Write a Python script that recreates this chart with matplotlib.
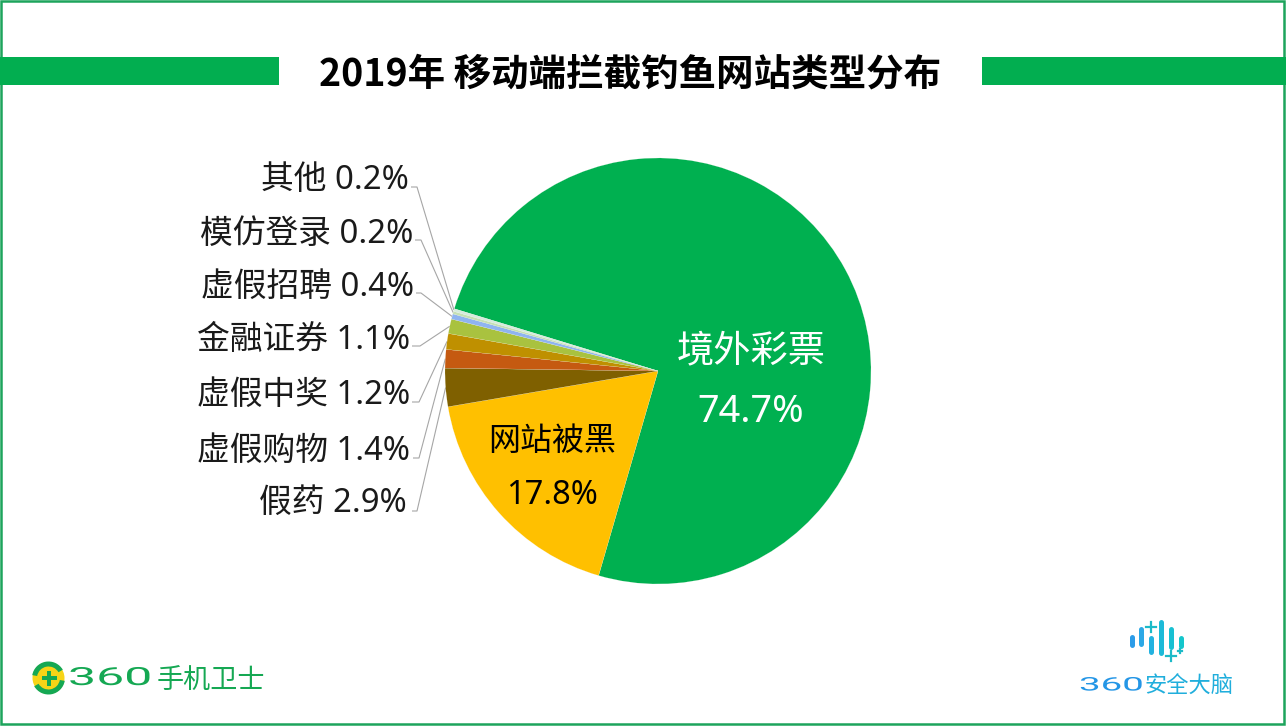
import matplotlib
matplotlib.use("Agg")
import numpy as np
import matplotlib.pyplot as plt
from matplotlib.patches import Rectangle, Circle, Wedge
from matplotlib.patheffects import AbstractPathEffect
from matplotlib.transforms import Affine2D

FAM = ['Noto Sans', 'Noto Sans CJK SC', 'DejaVu Sans']
CJK = ['Noto Sans CJK SC', 'DejaVu Sans']
plt.rcParams['font.family'] = FAM

title = '2019年 移动端拦截钓鱼网站类型分布'
categories = ['境外彩票', '网站被黑', '假药', '虚假购物', '虚假中奖', '金融证券', '虚假招聘', '模仿登录', '其他']
values = [74.7, 17.8, 2.9, 1.4, 1.2, 1.1, 0.4, 0.2, 0.2]
colors = ['#00B050', '#FFC000', '#7F6000', '#C55A11', '#BF9000', '#A9C23F', '#8FB4F0', '#C5E0B4', '#D5EBDD']

W, H = 1286, 726
BAND = '#02AE50'
FRAME = '#1DA45C'


class StretchX(AbstractPathEffect):
    """Widen a text's glyphs about a display x, for the wide logo numerals."""

    def __init__(self, sx, x0):
        super().__init__()
        self.sx, self.x0 = sx, x0

    def draw_path(self, renderer, gc, tpath, affine, rgbFace=None):
        t = affine + Affine2D().translate(-self.x0, 0).scale(self.sx, 1).translate(self.x0, 0)
        renderer.draw_path(gc, tpath, t, rgbFace)


fig = plt.figure(figsize=(W / 100, H / 100), dpi=100, facecolor='white')
bg = fig.add_axes([0, 0, 1, 1], zorder=0)
bg.set_xlim(0, W)
bg.set_ylim(H, 0)
bg.axis('off')

# frame and title band
bg.add_patch(Rectangle((1, 1), W - 3, H - 3, fill=False, ec=FRAME, lw=1.8))
bg.add_patch(Rectangle((0, 57), 279, 27.5, fc=BAND, ec='none'))
bg.add_patch(Rectangle((982, 57), W - 982, 27.5, fc=BAND, ec='none'))
bg.text(630, 74, title, ha='center', va='center', fontsize=27, fontweight='bold', color='black', family=CJK)

# pie
cx, cy, R = 658, 371, 213
ax = fig.add_axes([(cx - R) / W, 1 - (cy + R) / H, 2 * R / W, 2 * R / H], zorder=1)
wedges, _ = ax.pie(values, colors=colors, startangle=163, counterclock=False, radius=1,
                   wedgeprops=dict(edgecolor='#F4F4E8', linewidth=0.1))
ax.set_xlim(-1, 1)
ax.set_ylim(-1, 1)
ax.set_aspect('equal')
ax.patch.set_alpha(0)

# inner labels, above the pie
top = fig.add_axes([0, 0, 1, 1], zorder=2)
top.set_xlim(0, W)
top.set_ylim(H, 0)
top.axis('off')
inside = {0: (751, 351, 412, 'white', 26.8), 1: (552, 441, 496, 'black', 23)}
for i, (x, y, py, c, fs) in inside.items():
    top.text(x, y, categories[i], ha='center', va='center', fontsize=fs, color=c, family=CJK)
    top.text(x, py, f'{values[i]}%', ha='center', va='center', fontsize=fs + 0.5, color=c)

# outer labels: label right edge, centre y, elbow start, elbow end, elbow y
outer = {8: (409, 180, 411, 417, 187), 7: (413, 234, 415, 421, 240), 6: (414, 287, 416, 421, 293),
         5: (410, 340, 412, 420, 346), 4: (410, 395, 412, 419, 402), 3: (410, 451, 413, 419, 458),
         2: (407, 503, 412, 417, 511)}
for i, (tx, ty, x0, x1, ly) in outer.items():
    bg.text(tx, ty, f'{categories[i]} {values[i]}%', ha='right', va='center', fontsize=23.6, color='#1a1a1a')
    w = wedges[i]
    a = np.deg2rad((w.theta1 + w.theta2) / 2)
    ex, ey = cx + R * np.cos(a), cy - R * np.sin(a)
    bg.plot([x0, x1, ex], [ly, ly, ey], color='#A6A6A6', lw=0.8, solid_capstyle='butt', zorder=1)

# 360 phone guard logo
LG = '#15A853'
bg.add_patch(Circle((48.5, 678), 16, fc='#F7D417', ec='none'))
bg.add_patch(Wedge((48.5, 678), 16.5, 10, 150, width=5, fc=LG, ec='none'))
bg.add_patch(Wedge((48.5, 678), 16.5, 190, 330, width=5, fc=LG, ec='none'))
bg.add_patch(Rectangle((41.5, 676), 15, 4, fc=LG, ec='none'))
bg.add_patch(Rectangle((47, 670.5), 4, 15, fc=LG, ec='none'))
bg.text(68, 678, '360', ha='left', va='center', fontsize=18, color=LG, family='Roboto',
        path_effects=[StretchX(2.0, 68)])
bg.text(157, 680, '手机卫士', ha='left', va='center', fontsize=19.5, color=LG, family=CJK)

# 360 security brain logo
bars = [(1131.5, 637, 645), (1141, 629, 644), (1151, 638, 652), (1160.7, 622, 653), (1170.7, 629, 647), (1180.7, 638, 646)]
bar_cols = ['#2C9CE8', '#2CA8E6', '#22B2E0', '#1CBAD8', '#18C0D2', '#14C6CC']
for (x, y0, y1), c in zip(bars, bar_cols):
    bg.plot([x, x], [y0, y1], color=c, lw=3.6, solid_capstyle='round')
for x, y, s in [(1151, 627, 5), (1170.7, 656, 5), (1180, 651, 2)]:
    bg.plot([x - s, x + s], [y, y], color='#1CBAC8', lw=1.6)
    bg.plot([x, x], [y - s, y + s], color='#1CBAC8', lw=1.6)
bg.text(1079, 685.5, '360', ha='left', va='center', fontsize=13.5, color='#2496E6', family='Roboto',
        path_effects=[StretchX(2.05, 1079)])
bg.text(1145, 686.5, '安全大脑', ha='left', va='center', fontsize=16, color='#20AEDC', family=CJK)

fig.savefig('out.png', dpi=100, facecolor='white')
